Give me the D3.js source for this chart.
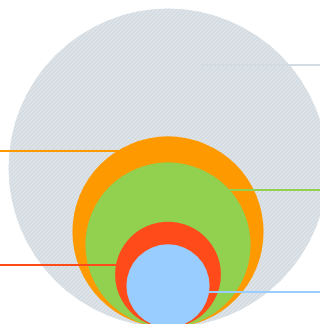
<!DOCTYPE html>
<html>
<head>
<meta charset="utf-8">
<script src="https://cdn.jsdelivr.net/npm/d3@7"></script>
<style>
  html, body { margin: 0; padding: 0; background: #fff; }
  svg { display: block; }
</style>
</head>
<body>
<svg id="chart"></svg>
<script>
// nested circles, all sitting on the same bottom line
var names  = ["Total", "Segment A", "Segment B", "Segment C", "Segment D"];
var values = [100, 35.9, 26.8, 11.0, 6.8];
var colors = ["url(#hatch)", "#ff9900", "#92d050", "#ff4b1a", "#99ccff"];
var lineColors = ["#d3dce3", "#ff9900", "#92d050", "#ff4b1a", "#99ccff"];
// leader line: side and vertical position as a fraction of radius (sin of angle)
var leaderSide = ["right", "left", "right", "left", "right"];
var leaderSin  = [-0.652, -0.86, -0.672, -0.195, 0.125];

var width = 320, height = 324,
    cx = 168, baseY = 327.5, maxR = 159.5;

var svg = d3.select("#chart")
    .attr("width", width)
    .attr("height", height);

var defs = svg.append("defs");
var pat = defs.append("pattern")
    .attr("id", "hatch")
    .attr("patternUnits", "userSpaceOnUse")
    .attr("width", 4)
    .attr("height", 4);
pat.append("rect")
    .attr("width", 4).attr("height", 4)
    .attr("fill", "#d5dde3");
pat.append("path")
    .attr("d", "M-1,1 l2,-2 M0,4 l4,-4 M3,5 l2,-2")
    .attr("stroke", "#e2e8ec")
    .attr("stroke-width", 1);

var r = d3.scaleSqrt()
    .domain([0, d3.max(values)])
    .range([0, maxR]);

var data = values.map(function(v, i) {
    return { name: names[i], value: v, color: colors[i], line: lineColors[i],
             side: leaderSide[i], s: leaderSin[i] };
});

svg.selectAll("circle.bubble")
    .data(data)
    .enter()
    .append("circle")
    .attr("class", "bubble")
    .attr("cx", cx)
    .attr("cy", function(d) { return baseY - r(d.value); })
    .attr("r", function(d) { return r(d.value); })
    .attr("fill", function(d) { return d.color; });

// leader lines from the circle edge out to the side of the chart
svg.selectAll("line.leader")
    .data(data)
    .enter()
    .append("line")
    .attr("class", "leader")
    .attr("x1", function(d, i) {
        var rr = r(d.value), cyy = baseY - rr;
        var dx = rr * Math.sqrt(1 - d.s * d.s);
        if (i === 0) return cx + rr * 0.2; // outer one starts inside the circle
        return d.side === "left" ? cx - dx : cx + dx;
    })
    .attr("x2", function(d) { return d.side === "left" ? 0 : width; })
    .attr("y1", function(d) { var rr = r(d.value); return Math.round(baseY - rr + rr * d.s) + 0.5; })
    .attr("y2", function(d) { var rr = r(d.value); return Math.round(baseY - rr + rr * d.s) + 0.5; })
    .attr("stroke", function(d) { return d.line; })
    .attr("stroke-width", 2)
    .attr("shape-rendering", "crispEdges");
</script>
</body>
</html>
